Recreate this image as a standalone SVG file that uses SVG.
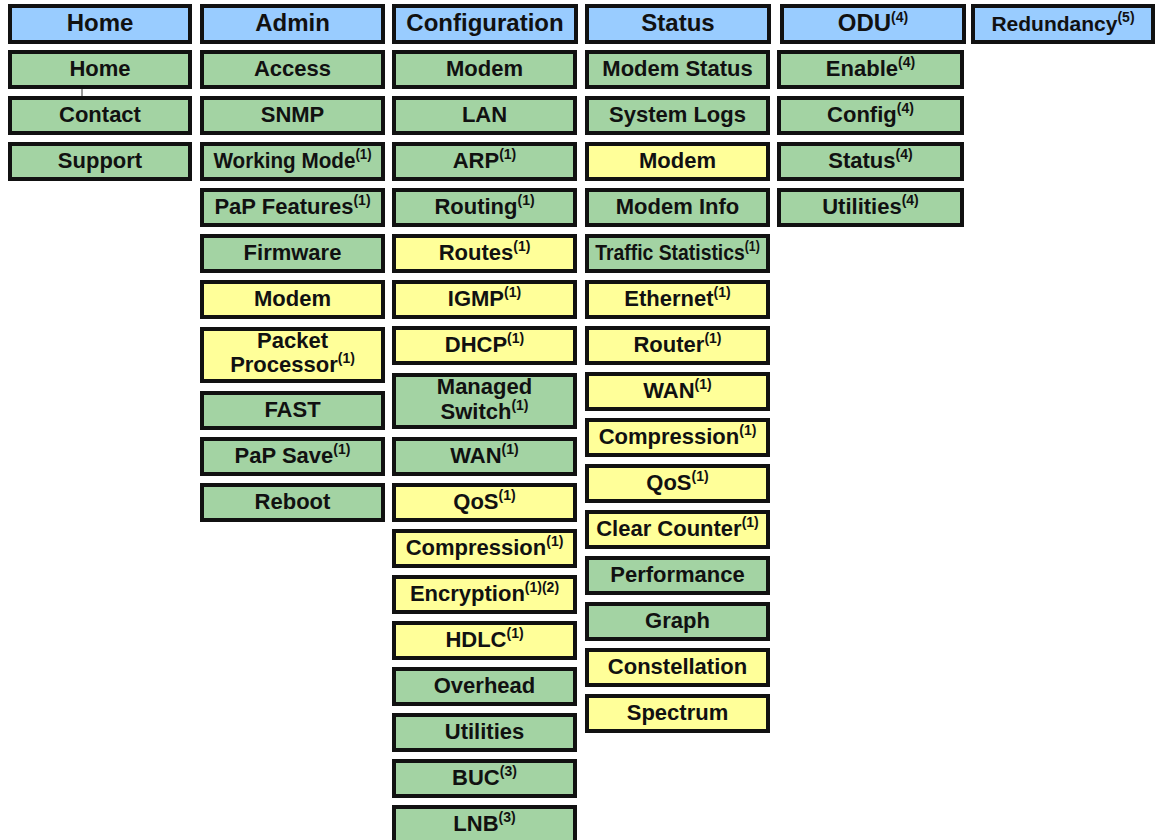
<svg xmlns="http://www.w3.org/2000/svg" width="1155" height="840" viewBox="0 0 1155 840">
<style>
rect{stroke:#111;stroke-width:4}
rect.bg{stroke:none;fill:#fff}
.h{fill:#99ccff}
.g{fill:#a3d3a3}
.y{fill:#ffff99}
text{font-family:"Liberation Sans",Arial,sans-serif;font-weight:bold;fill:#111;text-anchor:middle}
.ht{font-size:24px}
.t{font-size:22px}
.s{font-size:14px}
</style>
<rect class="bg" x="0" y="0" width="1155" height="840"/>
<g id="connectors">
<line x1="82" y1="89" x2="82" y2="96" stroke="#333" stroke-width="1"/>
</g>
<!-- Headers -->
<g id="hdr-home"><rect class="h" x="10" y="6" width="180" height="36"/><text class="ht" x="100" y="31">Home</text></g>
<g id="hdr-admin"><rect class="h" x="202" y="6" width="181" height="36"/><text class="ht" x="292.5" y="31">Admin</text></g>
<g id="hdr-config"><rect class="h" x="394" y="6" width="182" height="36"/><text class="ht" x="485" y="31">Configuration</text></g>
<g id="hdr-status"><rect class="h" x="587" y="6" width="182" height="36"/><text class="ht" x="678" y="31">Status</text></g>
<g id="hdr-odu"><rect class="h" x="782" y="6" width="182" height="36"/><text class="ht" x="873" y="31">ODU<tspan class="s" dy="-9">(4)</tspan></text></g>
<g id="hdr-red"><rect class="h" x="973" y="6" width="180" height="36"/><text class="t" x="1063" y="31" style="font-size:21px">Redundancy<tspan class="s" dy="-9">(5)</tspan></text></g>

<!-- Column 1 -->
<g id="home-home"><rect class="g" x="10" y="52" width="180" height="35"/><text class="t" x="100" y="76">Home</text></g>
<g id="home-contact"><rect class="g" x="10" y="98" width="180" height="35"/><text class="t" x="100" y="122">Contact</text></g>
<g id="home-support"><rect class="g" x="10" y="144" width="180" height="35"/><text class="t" x="100" y="168">Support</text></g>

<!-- Column 2 -->
<g id="admin-access"><rect class="g" x="202" y="52" width="181" height="35"/><text class="t" x="292.5" y="76">Access</text></g>
<g id="admin-snmp"><rect class="g" x="202" y="98" width="181" height="35"/><text class="t" x="292.5" y="122">SNMP</text></g>
<g id="admin-working"><rect class="g" x="202" y="144" width="181" height="35"/><text class="t" transform="translate(292.5,168) scale(0.94,1)">Working Mode<tspan class="s" dy="-9">(1)</tspan></text></g>
<g id="admin-pap"><rect class="g" x="202" y="190" width="181" height="35"/><text class="t" x="292.5" y="214">PaP Features<tspan class="s" dy="-9">(1)</tspan></text></g>
<g id="admin-firmware"><rect class="g" x="202" y="236" width="181" height="35"/><text class="t" x="292.5" y="260">Firmware</text></g>
<g id="admin-modem"><rect class="y" x="202" y="282" width="181" height="35"/><text class="t" x="292.5" y="306">Modem</text></g>
<g id="admin-packet"><rect class="y" x="202" y="329" width="181" height="52"/><text class="t" x="292.5" y="348">Packet</text><text class="t" x="292.5" y="372">Processor<tspan class="s" dy="-9">(1)</tspan></text></g>
<g id="admin-fast"><rect class="g" x="202" y="393" width="181" height="35"/><text class="t" x="292.5" y="417">FAST</text></g>
<g id="admin-papsave"><rect class="g" x="202" y="439" width="181" height="35"/><text class="t" x="292.5" y="463">PaP Save<tspan class="s" dy="-9">(1)</tspan></text></g>
<g id="admin-reboot"><rect class="g" x="202" y="485" width="181" height="35"/><text class="t" x="292.5" y="509">Reboot</text></g>

<!-- Column 3 -->
<g id="cfg-modem"><rect class="g" x="394" y="52" width="181" height="35"/><text class="t" x="484.5" y="76">Modem</text></g>
<g id="cfg-lan"><rect class="g" x="394" y="98" width="181" height="35"/><text class="t" x="484.5" y="122">LAN</text></g>
<g id="cfg-arp"><rect class="g" x="394" y="144" width="181" height="35"/><text class="t" x="484.5" y="168">ARP<tspan class="s" dy="-9">(1)</tspan></text></g>
<g id="cfg-routing"><rect class="g" x="394" y="190" width="181" height="35"/><text class="t" x="484.5" y="214">Routing<tspan class="s" dy="-9">(1)</tspan></text></g>
<g id="cfg-routes"><rect class="y" x="394" y="236" width="181" height="35"/><text class="t" x="484.5" y="260">Routes<tspan class="s" dy="-9">(1)</tspan></text></g>
<g id="cfg-igmp"><rect class="y" x="394" y="282" width="181" height="35"/><text class="t" x="484.5" y="306">IGMP<tspan class="s" dy="-9">(1)</tspan></text></g>
<g id="cfg-dhcp"><rect class="y" x="394" y="328" width="181" height="35"/><text class="t" x="484.5" y="352">DHCP<tspan class="s" dy="-9">(1)</tspan></text></g>
<g id="cfg-switch"><rect class="g" x="394" y="375" width="181" height="52"/><text class="t" x="484.5" y="394">Managed</text><text class="t" x="484.5" y="419">Switch<tspan class="s" dy="-9">(1)</tspan></text></g>
<g id="cfg-wan"><rect class="g" x="394" y="439" width="181" height="35"/><text class="t" x="484.5" y="463">WAN<tspan class="s" dy="-9">(1)</tspan></text></g>
<g id="cfg-qos"><rect class="y" x="394" y="485" width="181" height="35"/><text class="t" x="484.5" y="509">QoS<tspan class="s" dy="-9">(1)</tspan></text></g>
<g id="cfg-compression"><rect class="y" x="394" y="531" width="181" height="35"/><text class="t" x="484.5" y="555">Compression<tspan class="s" dy="-9">(1)</tspan></text></g>
<g id="cfg-encryption"><rect class="y" x="394" y="577" width="181" height="35"/><text class="t" x="484.5" y="601">Encryption<tspan class="s" dy="-9">(1)(2)</tspan></text></g>
<g id="cfg-hdlc"><rect class="y" x="394" y="623" width="181" height="35"/><text class="t" x="484.5" y="647">HDLC<tspan class="s" dy="-9">(1)</tspan></text></g>
<g id="cfg-overhead"><rect class="g" x="394" y="669" width="181" height="35"/><text class="t" x="484.5" y="693">Overhead</text></g>
<g id="cfg-utilities"><rect class="g" x="394" y="715" width="181" height="35"/><text class="t" x="484.5" y="739">Utilities</text></g>
<g id="cfg-buc"><rect class="g" x="394" y="761" width="181" height="35"/><text class="t" x="484.5" y="785">BUC<tspan class="s" dy="-9">(3)</tspan></text></g>
<g id="cfg-lnb"><rect class="g" x="394" y="807" width="181" height="35"/><text class="t" x="484.5" y="831">LNB<tspan class="s" dy="-9">(3)</tspan></text></g>

<!-- Column 4 -->
<g id="st-modemstatus"><rect class="g" x="587" y="52" width="181" height="35"/><text class="t" x="677.5" y="76">Modem Status</text></g>
<g id="st-syslogs"><rect class="g" x="587" y="98" width="181" height="35"/><text class="t" x="677.5" y="122">System Logs</text></g>
<g id="st-modem"><rect class="y" x="587" y="144" width="181" height="35"/><text class="t" x="677.5" y="168">Modem</text></g>
<g id="st-modeminfo"><rect class="g" x="587" y="190" width="181" height="35"/><text class="t" x="677.5" y="214">Modem Info</text></g>
<g id="st-traffic"><rect class="g" x="587" y="236" width="181" height="35"/><text class="t" transform="translate(677.5,260) scale(0.88,1)">Traffic Statistics<tspan class="s" dy="-9">(1)</tspan></text></g>
<g id="st-ethernet"><rect class="y" x="587" y="282" width="181" height="35"/><text class="t" x="677.5" y="306">Ethernet<tspan class="s" dy="-9">(1)</tspan></text></g>
<g id="st-router"><rect class="y" x="587" y="328" width="181" height="35"/><text class="t" x="677.5" y="352">Router<tspan class="s" dy="-9">(1)</tspan></text></g>
<g id="st-wan"><rect class="y" x="587" y="374" width="181" height="35"/><text class="t" x="677.5" y="398">WAN<tspan class="s" dy="-9">(1)</tspan></text></g>
<g id="st-compression"><rect class="y" x="587" y="420" width="181" height="35"/><text class="t" x="677.5" y="444">Compression<tspan class="s" dy="-9">(1)</tspan></text></g>
<g id="st-qos"><rect class="y" x="587" y="466" width="181" height="35"/><text class="t" x="677.5" y="490">QoS<tspan class="s" dy="-9">(1)</tspan></text></g>
<g id="st-clear"><rect class="y" x="587" y="512" width="181" height="35"/><text class="t" x="677.5" y="536">Clear Counter<tspan class="s" dy="-9">(1)</tspan></text></g>
<g id="st-performance"><rect class="g" x="587" y="558" width="181" height="35"/><text class="t" x="677.5" y="582">Performance</text></g>
<g id="st-graph"><rect class="g" x="587" y="604" width="181" height="35"/><text class="t" x="677.5" y="628">Graph</text></g>
<g id="st-constellation"><rect class="y" x="587" y="650" width="181" height="35"/><text class="t" x="677.5" y="674">Constellation</text></g>
<g id="st-spectrum"><rect class="y" x="587" y="696" width="181" height="35"/><text class="t" x="677.5" y="720">Spectrum</text></g>

<!-- Column 5 -->
<g id="odu-enable"><rect class="g" x="779" y="52" width="183" height="35"/><text class="t" x="870.5" y="76">Enable<tspan class="s" dy="-9">(4)</tspan></text></g>
<g id="odu-config"><rect class="g" x="779" y="98" width="183" height="35"/><text class="t" x="870.5" y="122">Config<tspan class="s" dy="-9">(4)</tspan></text></g>
<g id="odu-status"><rect class="g" x="779" y="144" width="183" height="35"/><text class="t" x="870.5" y="168">Status<tspan class="s" dy="-9">(4)</tspan></text></g>
<g id="odu-utilities"><rect class="g" x="779" y="190" width="183" height="35"/><text class="t" x="870.5" y="214">Utilities<tspan class="s" dy="-9">(4)</tspan></text></g>
</svg>
